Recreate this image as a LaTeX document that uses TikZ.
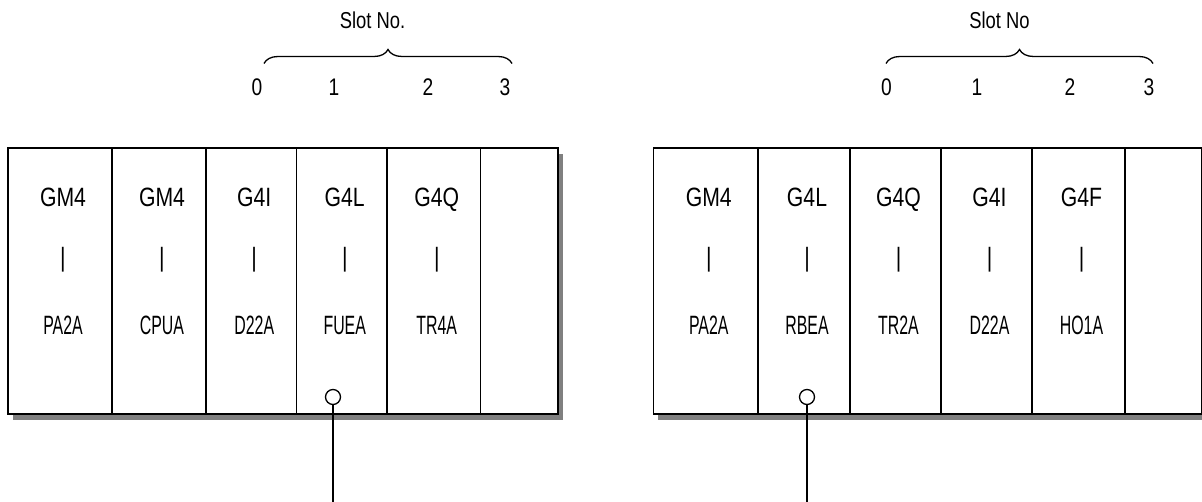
\documentclass[tikz,border=0pt]{standalone}
\usepackage{fontspec}
\setmainfont{Liberation Sans}
\newfontfamily\narrowfont{Liberation Sans}[FakeStretch=0.8]
\newfontfamily\squeezefont{Liberation Sans}[FakeStretch=0.6]
\usetikzlibrary{
    decorations.pathreplacing,
    positioning,
    shadows
}
\definecolor{ink}{RGB}{0,0,0}
\definecolor{shadowgrey}{RGB}{128,128,128}
\tikzset{
    rack/.style={
        draw=ink,
        line width=1.7pt,
        fill=white,
        minimum height=266pt,
        inner sep=0pt,
        anchor=north west,
        drop shadow={shadow xshift=5pt, shadow yshift=-6pt, opacity=1, fill=shadowgrey}
    },
    module/.style={
        draw=ink,
        line width=1.5pt,
        minimum height=266pt,
        inner sep=0pt,
        anchor=north west
    },
    modtop/.style={
        font=\narrowfont\fontsize{26.5}{30}\selectfont,
        text=ink,
        anchor=base,
        inner sep=0pt
    },
    modbot/.style={
        modtop,
        font=\squeezefont\fontsize{26.5}{30}\selectfont
    },
    port/.style={
        circle,
        draw=ink,
        fill=white,
        line width=1.3pt,
        minimum size=15pt,
        inner sep=0pt
    },
    cable/.style={
        draw=ink,
        line width=1.4pt
    },
    slotnum/.style={
        font=\narrowfont\fontsize{24}{28}\selectfont,
        text=ink,
        anchor=base,
        inner sep=0pt
    },
    slottitle/.style={
        font=\narrowfont\fontsize{23}{27}\selectfont,
        text=ink,
        anchor=base,
        inner sep=0pt
    },
    slotbrace/.style={
        draw=ink,
        line width=1.3pt,
        decorate,
        decoration={brace, amplitude=14pt}
    }
}

\begin{document}
\begin{tikzpicture}[x=1pt, y=-1pt]
\useasboundingbox (0,0) rectangle (1202,502);

% Left rack
\node[rack, minimum width=550pt] (rackL) at (7,147) {};
\foreach \i/\a/\b/\top/\bot in {1/7/111/GM4/PA2A, 2/111/205/GM4/CPUA, 3/205/295.5/G4I/D22A, 4/295.5/386/G4L/FUEA, 5/386/479.5/G4Q/TR4A} {
    \pgfmathsetmacro{\w}{\b-\a}
    \pgfmathsetmacro{\c}{(\a+\b)/2+4}
    \node[module, minimum width=\w pt] (L\i) at (\a,147) {};
    \node[modtop] (L\i-top) at (\c,207) {\top};
    \node[modtop] (L\i-bar) at (\c,266.5) {|};
    \node[modbot] (L\i-bot) at (\c,335) {\bot};
}

% Right rack
\node[rack, minimum width=548.5pt] (rackR) at (652.5,147) {};
\foreach \i/\a/\b/\top/\bot in {1/652.5/757/GM4/PA2A, 2/757/849/G4L/RBEA, 3/849/940/G4Q/TR2A, 4/940/1031/G4I/D22A, 5/1031/1124/G4F/HO1A} {
    \pgfmathsetmacro{\w}{\b-\a}
    \pgfmathsetmacro{\c}{(\a+\b)/2+4}
    \node[module, minimum width=\w pt] (R\i) at (\a,147) {};
    \node[modtop] (R\i-top) at (\c,207) {\top};
    \node[modtop] (R\i-bar) at (\c,266.5) {|};
    \node[modbot] (R\i-bot) at (\c,335) {\bot};
}

% Ports and cables
\node[port] (portL) at (333,397) {};
\node[port] (portR) at (807,397) {};
\coordinate (cableL) at (333,502);
\coordinate (cableR) at (807,502);
\draw[cable] (portL) -- (cableL);
\draw[cable] (portR) -- (cableR);

% Slot numbering
\node[slottitle] (titleL) at (372.5,29) {Slot No.};
\coordinate (braceLa) at (264,63.5);
\coordinate (braceLb) at (512,63.5);
\draw[slotbrace] (braceLa) -- (braceLb);
\foreach \n/\x in {0/257, 1/334, 2/428, 3/505} {
    \node[slotnum] (slotL\n) at (\x,96) {\n};
}

\node[slottitle] (titleR) at (999.5,29) {Slot No};
\coordinate (braceRa) at (886,63.5);
\coordinate (braceRb) at (1153,63.5);
\draw[slotbrace] (braceRa) -- (braceRb);
\foreach \n/\x in {0/886.5, 1/977, 2/1070, 3/1149} {
    \node[slotnum] (slotR\n) at (\x,96) {\n};
}
\end{tikzpicture}
\end{document}
